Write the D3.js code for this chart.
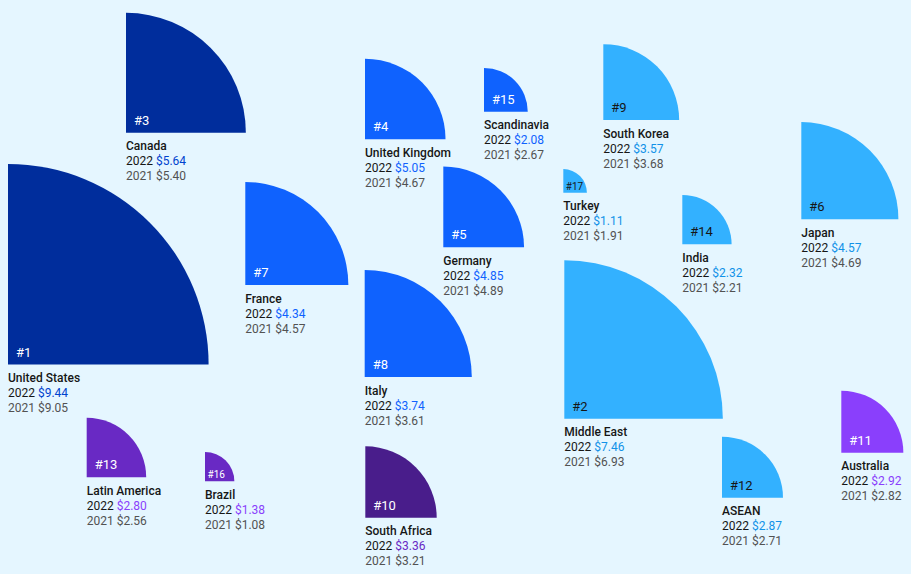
<!DOCTYPE html>
<html>
<head>
<meta charset="utf-8">
<script src="https://cdn.jsdelivr.net/npm/d3@7"></script>
<style>
  html, body { margin: 0; padding: 0; background: #e5f6ff; }
  svg { display: block; font-family: Roboto, "Noto Sans", sans-serif; }
</style>
</head>
<body>
<svg id="chart" width="911" height="574"></svg>
<script>
// average cost of a data breach by region, US$ millions
const regions = ["United States", "Middle East", "Canada", "United Kingdom", "Germany",
  "Japan", "France", "Italy", "South Korea", "South Africa", "Australia", "ASEAN",
  "Latin America", "India", "Scandinavia", "Brazil", "Turkey"];
const ranks = [1, 2, 3, 4, 5, 6, 7, 8, 9, 10, 11, 12, 13, 14, 15, 16, 17];
const cost2022 = [9.44, 7.46, 5.64, 5.05, 4.85, 4.57, 4.34, 3.74, 3.57, 3.36, 2.92, 2.87, 2.80, 2.32, 2.08, 1.38, 1.11];
const cost2021 = [9.05, 6.93, 5.40, 4.67, 4.89, 4.69, 4.57, 3.61, 3.68, 3.21, 2.82, 2.71, 2.56, 2.21, 2.67, 1.08, 1.91];
// size the shapes are drawn at in the picture (European ones differ from their label)
const shapeCost = [9.44, 7.46, 5.64, 3.79, 3.80, 4.57, 4.85, 5.04, 3.57, 3.36, 2.92, 2.87, 2.80, 2.32, 2.06, 1.38, 1.11];
const groups = ["navy", "cyan", "navy", "blue", "blue", "cyan", "blue", "blue", "cyan",
  "plum", "violet", "cyan", "purple", "cyan", "blue", "purple", "cyan"];

// layout: bottom-left corner of each quarter circle
const anchors = [[8, 364.5], [564.3, 418.7], [126, 132.7], [365, 139.3], [443.3, 247.3],
  [801.3, 219.2], [245.3, 285], [364.7, 377], [603.3, 120], [365.3, 517.7], [841.3, 452.7],
  [722, 497.7], [86.7, 477.3], [682.3, 244.3], [484, 111.7], [205, 481.3], [563.3, 192.7]];

const fill = { navy: "#002d9c", blue: "#0f62fe", cyan: "#33b1ff", purple: "#6929c4", plum: "#491d8b", violet: "#8a3ffc" };
const valueColor = { navy: "#0043ce", blue: "#0f62fe", cyan: "#1192e8", purple: "#8a3ffc", plum: "#6929c4", violet: "#8a3ffc" };
const rankColor = { navy: "#fff", blue: "#fff", cyan: "#161616", purple: "#fff", plum: "#fff", violet: "#fff" };

const svg = d3.select("#chart");
const r = d3.scaleLinear().domain([0, 10]).range([0, 212.5]);
const arc = d3.arc().innerRadius(0).startAngle(0).endAngle(Math.PI / 2);

const data = regions.map((name, i) => ({
  name, rank: ranks[i], v22: cost2022[i], v21: cost2021[i], size: shapeCost[i],
  group: groups[i], x: anchors[i][0], y: anchors[i][1]
}));

const g = svg.selectAll("g.region").data(data).join("g")
  .attr("class", "region")
  .attr("transform", d => `translate(${d.x},${d.y})`);

g.append("path")
  .attr("d", d => arc({ outerRadius: r(d.size) }))
  .attr("fill", d => fill[d.group]);

const small = d => r(d.size) < 35;
g.append("text")
  .attr("x", d => small(d) ? 2.5 : 8)
  .attr("y", d => small(d) ? -3 : -8)
  .attr("font-size", d => small(d) ? 10 : 13)
  .attr("fill", d => rankColor[d.group])
  .text(d => "#" + d.rank);

const fmt = d3.format("$.2f");

g.append("text")
  .attr("y", 17.5)
  .attr("font-size", 12)
  .attr("font-weight", 500)
  .attr("fill", "#161616")
  .text(d => d.name);

const l2 = g.append("text")
  .attr("y", 32.5)
  .attr("font-size", 12)
  .attr("fill", "#161616");
l2.append("tspan").text("2022 ");
l2.append("tspan").attr("fill", d => valueColor[d.group]).text(d => fmt(d.v22));

g.append("text")
  .attr("y", 47.5)
  .attr("font-size", 12)
  .attr("fill", "#525252")
  .text(d => "2021 " + fmt(d.v21));
</script>
</body>
</html>
